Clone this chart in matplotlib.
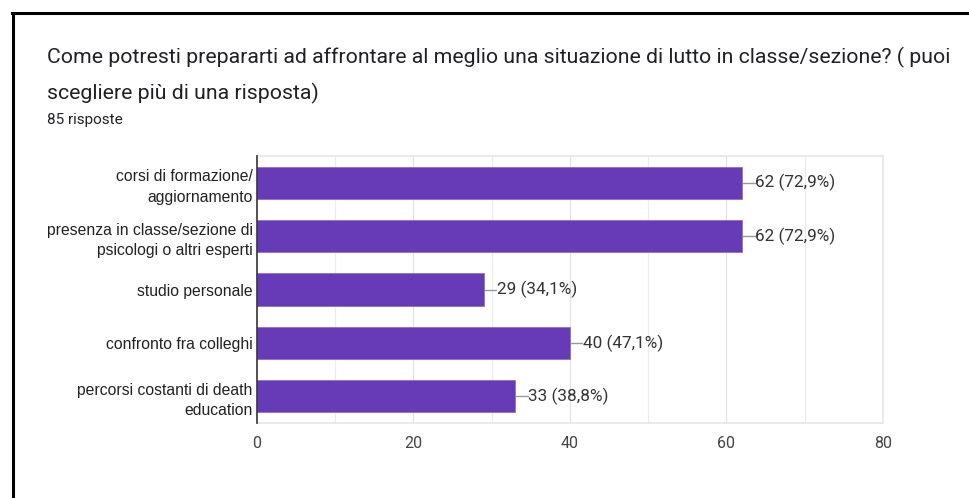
import matplotlib.pyplot as plt
from matplotlib.lines import Line2D

# Survey answers (Google Forms summary)
categories = [
    "corsi di formazione/\naggiornamento",
    "presenza in classe/sezione di\npsicologi o altri esperti",
    "studio personale",
    "confronto fra colleghi",
    "percorsi costanti di death\neducation",
]
counts = [62, 62, 29, 40, 33]
percents = ["72,9", "72,9", "34,1", "47,1", "38,8"]
total = 85
x_ticks = [0, 20, 40, 60, 80]

title_lines = [
    "Come potresti prepararti ad affrontare al meglio una situazione di lutto in classe/sezione? ( puoi",
    "scegliere più di una risposta)",
]

BAR_COLOR = "#673ab7"


def main():
    fig = plt.figure(figsize=(9.69, 4.98), dpi=100)
    ax = fig.add_axes([0.2652, 0.1506, 0.646, 0.5361])

    y = list(range(len(categories)))
    ax.barh(y, counts, height=0.6, color=BAR_COLOR, edgecolor="#8e6fd0", linewidth=0.6, zorder=3)
    ax.set_ylim(len(categories) - 0.5, -0.5)
    ax.set_xlim(0, 80)

    ax.set_yticks(y)
    ax.set_yticklabels(categories, family="Liberation Sans", fontsize=11.3, color="#222222",
                       linespacing=1.45)
    ax.set_xticks(x_ticks)
    ax.set_xticklabels([str(t) for t in x_ticks], family="Roboto", fontsize=11.5, color="#444444")
    ax.tick_params(axis="both", length=0)
    ax.tick_params(axis="x", pad=9)
    ax.tick_params(axis="y", pad=3)

    # light grid every 10, slightly stronger at labelled ticks
    for v in range(10, 80, 10):
        ax.axvline(v, color="#ebebeb" if v % 20 else "#e3e3e3", linewidth=0.9, zorder=1)

    for s in ["top", "right", "bottom"]:
        ax.spines[s].set_color("#e6e6e6")
        ax.spines[s].set_linewidth(1.2)
    ax.spines["left"].set_color("#333333")
    ax.spines["left"].set_linewidth(1.2)
    ax.spines["left"].set_zorder(4)

    # value labels with short leader lines
    for yi, c, p in zip(y, counts, percents):
        ax.plot([c, c + 1.6], [yi, yi], color="#999999", linewidth=1.0, zorder=2)
        ax.text(c + 1.65, yi, f"{c} ({p}%)", va="center", ha="left",
                family="Roboto", fontsize=12.3, color="#333333")

    # two-line question title + response count
    for line, ypx in zip(title_lines, [57, 93]):
        fig.text(47 / 969, 1 - ypx / 498, line, family="Roboto", fontsize=15.3, color="#202124",
                 va="center", ha="left")
    fig.text(47 / 969, 1 - 120 / 498, f"{total} risposte", family="Roboto", fontsize=11,
             color="#202124", va="center", ha="left")

    # outer frame
    fig.add_artist(Line2D([13 / 969, 13 / 969], [0, 1 - 13 / 498], transform=fig.transFigure,
                          color="black", linewidth=2.2))
    fig.add_artist(Line2D([12 / 969, 1], [1 - 13 / 498, 1 - 13 / 498], transform=fig.transFigure,
                          color="black", linewidth=2.2))

    fig.savefig("out.png", dpi=100, facecolor="white")


if __name__ == "__main__":
    main()
